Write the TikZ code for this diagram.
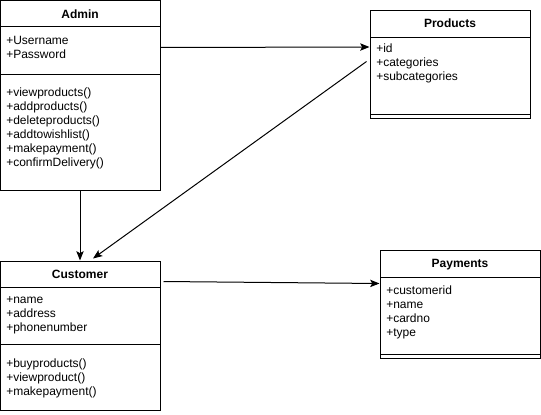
\documentclass[tikz,border=0pt]{standalone}
\usepackage{fontspec}
\setmainfont{Liberation Sans}
\usetikzlibrary{arrows.meta,calc,fit}
\begin{document}
\begin{tikzpicture}[x=0.75pt,y=-0.75pt,
  every node/.style={font=\fontsize{9pt}{10.5pt}\selectfont},
  classbox/.style={draw=black, line width=0.75pt, inner sep=0pt, fill=white},
  divider/.style={draw=black, line width=0.75pt},
  title/.style={anchor=base, inner sep=0pt, font=\fontsize{9pt}{10.5pt}\selectfont\bfseries},
  member/.style={anchor=base west, inner sep=0pt},
  link/.style={draw=black, line width=0.75pt, -{Stealth[length=7pt,width=5.5pt,inset=1.5pt]}}
]
\useasboundingbox (0,0) rectangle (541,414);

% ---------- Admin ----------
\node[classbox, fit={(0.5,0.5) (160,190)}] (admin) {};
\draw[divider] (0.5,26) -- (160,26);
\draw[divider] (0.5,74.5) -- (160,74.5);
\node[title] (adminT) at (80,18.3) {Admin};
\node[member] (adminA1) at (6,44.3) {+Username};
\node[member] (adminA2) at (6,58.3) {+Password};
\node[member] (adminM1) at (6,96) {+viewproducts()};
\node[member] (adminM2) at (6,110) {+addproducts()};
\node[member] (adminM3) at (6,124) {+deleteproducts()};
\node[member] (adminM4) at (6,138) {+addtowishlist()};
\node[member] (adminM5) at (6,152) {+makepayment()};
\node[member] (adminM6) at (6,166) {+confirmDelivery()};

% ---------- Products ----------
\node[classbox, fit={(370,10) (530,118)}] (products) {};
\draw[divider] (370,37) -- (530,37);
\draw[divider] (370,114) -- (530,114);
\node[title] (productsT) at (450,27.7) {Products};
\node[member] (productsA1) at (376,52.3) {+id};
\node[member] (productsA2) at (376,66.3) {+categories};
\node[member] (productsA3) at (376,80.3) {+subcategories};

% ---------- Customer ----------
\node[classbox, fit={(0.5,261) (160,410)}] (customer) {};
\draw[divider] (0.5,287.5) -- (160,287.5);
\draw[divider] (0.5,344) -- (160,344);
\node[title] (customerT) at (80,278.3) {Customer};
\node[member] (customerA1) at (6,303.7) {+name};
\node[member] (customerA2) at (6,317.7) {+address};
\node[member] (customerA3) at (6,331.7) {+phonenumber};
\node[member] (customerM1) at (6,367.7) {+buyproducts()};
\node[member] (customerM2) at (6,381.7) {+viewproduct()};
\node[member] (customerM3) at (6,395.7) {+makepayment()};

% ---------- Payments ----------
\node[classbox, fit={(380,250) (540,358)}] (payments) {};
\draw[divider] (380,277) -- (540,277);
\draw[divider] (380,354) -- (540,354);
\node[title] (paymentsT) at (460,267.7) {Payments};
\node[member] (paymentsA1) at (386,294) {+customerid};
\node[member] (paymentsA2) at (386,308) {+name};
\node[member] (paymentsA3) at (386,322) {+cardno};
\node[member] (paymentsA4) at (386,336) {+type};

% ---------- Associations ----------
\draw[link] ($(admin.north east)+(0,47.5)$) -- ($(products.north west)+(0,37.5)$);
\draw[link] ($(admin.south west)+(80,0)$) -- ($(customer.north west)+(80,0)$);
\draw[link] ($(products.north west)+(-3,52)$) -- ($(customer.north west)+(93,-2)$);
\draw[link] ($(customer.north east)+(3,21)$) -- ($(payments.north west)+(0,34)$);
\end{tikzpicture}
\end{document}
